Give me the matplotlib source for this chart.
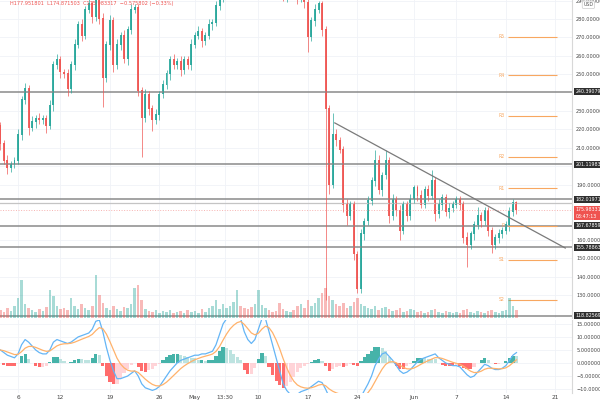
import numpy as np
import pandas as pd
import matplotlib
matplotlib.use("Agg")
import matplotlib.pyplot as plt
from matplotlib.transforms import blended_transform_factory

# 12h candles, x is day number counted from Apr 1 (Apr 1 = day 1)
first_day = 2.5
step = 0.5
first_open = 222.0

closes = [212, 203, 199, 201, 203, 217, 236, 242, 221, 224,
          226, 225, 226, 222, 233, 255, 258, 251, 250, 242,
          255, 266, 277, 271, 285, 288, 281, 291, 280, 248,
          266, 279, 255, 266, 271, 258, 274, 285, 286, 241,
          226, 239, 231, 225, 228, 239, 244, 250, 258, 255,
          257, 252, 258, 255, 266, 271, 273, 268, 271, 277,
          278, 287, 292, 295, 300, 305, 308, 312, 310, 304,
          300, 298, 302, 308, 314, 318, 315, 308, 302, 296,
          292, 294, 296, 293, 291, 292, 289, 270, 279, 285,
          288, 274, 231, 190, 217, 214, 209, 179, 173, 179,
          152, 133, 163, 170, 181, 192, 203, 187, 195, 203,
          173, 182, 176, 165, 179, 173, 182, 188, 184, 179,
          187, 184, 192, 174, 179, 183, 175, 177, 179, 182,
          179, 161, 157, 163, 168, 173, 170, 176, 165, 157,
          161, 163, 165, 168, 175, 180, 175.98]

wick_hi = [2, 2, 3, 2, 2, 3, 2, 3, 2, 3,
           2, 3, 2, 2, 3, 2, 3, 2, 2, 3,
           2, 3, 2, 3, 2, 3, 2, 3, 2, 3,
           2, 3, 2, 3, 2, 3, 2, 3, 2, 2,
           2, 3, 2, 2, 3, 2, 3, 2, 2, 3,
           2, 3, 2, 2, 3, 2, 3, 2, 2, 3,
           2, 3, 2, 2, 3, 2, 3, 2, 2, 3,
           2, 3, 2, 2, 3, 2, 3, 2, 2, 3,
           2, 3, 2, 2, 3, 2, 3, 3, 2, 3,
           2, 2, 2, 2, 12, 3, 2, 2, 3, 2,
           2, 2, 3, 2, 3, 2, 6, 3, 2, 6,
           2, 3, 2, 3, 2, 2, 3, 2, 2, 3,
           2, 3, 6, 2, 3, 2, 2, 3, 2, 2,
           2, 2, 3, 2, 2, 5, 2, 2, 2, 2,
           2, 3, 2, 2, 3, 2, 1]

wick_lo = [3, 2, 3, 2, 2, 2, 3, 2, 4, 2,
           3, 2, 2, 4, 2, 3, 2, 3, 2, 4,
           2, 3, 2, 3, 2, 2, 3, 2, 3, 16,
           2, 3, 4, 2, 3, 2, 3, 2, 2, 3,
           21, 2, 3, 6, 2, 3, 2, 2, 3, 2,
           2, 3, 2, 2, 3, 2, 2, 3, 2, 2,
           3, 2, 2, 3, 2, 2, 3, 2, 2, 3,
           2, 3, 2, 2, 3, 2, 2, 3, 2, 3,
           2, 3, 2, 2, 3, 2, 3, 8, 2, 3,
           2, 3, 104, 5, 2, 3, 2, 4, 5, 2,
           3, 2, 2, 3, 2, 2, 3, 2, 3, 2,
           4, 2, 3, 5, 2, 3, 2, 2, 3, 2,
           2, 3, 2, 4, 2, 3, 2, 3, 2, 2,
           3, 3, 12, 2, 3, 2, 3, 2, 3, 4,
           2, 3, 2, 2, 3, 2, 2]

volume = [8, 6, 10, 7, 12, 20, 38, 14, 10, 8,
          6, 9, 7, 11, 28, 22, 12, 9, 10, 8,
          20, 12, 9, 14, 10, 8, 12, 43, 23, 15,
          10, 8, 12, 9, 7, 11, 10, 14, 30, 33,
          18, 9, 7, 6, 8, 5, 7, 6, 8, 5,
          6, 7, 5, 8, 6, 7, 5, 9, 6, 10,
          12, 18, 9, 14, 10, 12, 16, 28, 12, 10,
          9, 11, 14, 28, 13, 10, 8, 6, 7, 15,
          9, 7, 6, 8, 12, 14, 10, 18, 12, 15,
          20, 25, 30, 22, 18, 14, 12, 15, 10, 12,
          16, 20, 14, 12, 10, 9, 12, 8, 10, 11,
          9, 7, 8, 10, 6, 7, 9, 8, 6, 7,
          5, 6, 8, 9, 6, 5, 7, 6, 5, 6,
          5, 8, 9, 6, 5, 7, 6, 5, 7, 8,
          6, 5, 7, 8, 20, 12, 8]

# MACD line
macd_line = [5, 4, 3, 2.5, 2, 3.5, 7, 9, 8, 6.5,
             5, 4, 3.5, 3.5, 5, 8, 9, 8.5, 8, 7.5,
             8, 9, 10, 10.5, 11, 11.5, 13, 16, 16.5, 12,
             6, 1, -3, -6, -6, -5.5, -5, -4, -3, -5,
             -8, -9.5, -10, -10.5, -10, -9, -7, -5, -3, -1.5,
             0, 1, 1.5, 2, 2.5, 3, 3, 3.5, 3.5, 4,
             4.5, 7, 11, 15, 17, 18, 18, 18, 17, 12,
             9, 7.5, 9, 13, 17, 17, 12, 7, 2, -3,
             -8, -10.5, -12, -12.5, -12, -11, -10.5, -10, -9, -8,
             -7, -7.5, -10, -13, -13, -13, -13, -14, -14, -13.5,
             -14, -15, -13, -10.5, -8, -5, -1, 1.5, 3.5, 4,
             2.5, 1, -1, -3, -4, -3.5, -2.5, -1, 0.5, 1.5,
             2, 2.5, 3, 3.5, 2, 1, 0, -0.5, -1, -1,
             -1.5, -3, -4.5, -5.5, -5, -3.5, -2, -0.5, -1, -2,
             -2.5, -2.5, -2, -1, 1, 3, 4]

# horizontal levels and their labels
levels = [240.390790, 201.119836, 182.019710, 167.678597, 155.788633, 118.825694]
light_level = 179.9
last_price = 175.983317

# weekly pivots (Jun 14 - Jun 21)
pivot_names = ["R5", "R4", "R3", "R2", "R1", "P", "S1", "S2"]
pivot_vals = [270.2, 249.5, 227.3, 205.0, 188.1, 167.7, 149.0, 127.3]
pivot_start, pivot_end = 74.3, 81.2

# trendline
trend_x = [49.8, 82.4]
trend_y = [223.5, 155.5]

tick_days = [5, 11, 18, 25, 30, 34.3, 39, 46, 53, 61, 67, 74, 81]
tick_names = ["6", "12", "19", "26", "May", "13:30", "10", "17", "24", "Jun", "7", "14", "21"]
price_ticks = [130, 140, 150, 160, 190, 200, 210, 220, 230, 250, 260, 270, 280, 290]
macd_ticks = [-10, -5, 0, 5, 10, 15]

UP = "#26a69a"
DOWN = "#ef5350"

c = np.array(closes, dtype=float)
o = np.concatenate([[first_open], c[:-1]])
hi = np.maximum(o, c) + np.array(wick_hi)
lo = np.minimum(o, c) - np.array(wick_lo)
x = first_day + step * np.arange(len(c))
up = c >= o
col = np.where(up, UP, DOWN)

fig = plt.figure(figsize=(6, 4), dpi=100)
ax = fig.add_axes([0, 0.205, 0.9533, 0.795])
axm = fig.add_axes([0, 0.0175, 0.9533, 0.1825], sharex=ax)

xmin, xmax = 2.45, 83.35
ax.set_xlim(xmin, xmax)
ax.set_ylim(117.47, 290.3)

# volume on its own scale at the bottom
axv = ax.twinx()
axv.set_ylim(0, 318)
axv.bar(x, volume, width=0.36, color=col, alpha=0.4, linewidth=0)
axv.set_yticks([])
for s in axv.spines.values():
    s.set_visible(False)

ax.vlines(x, lo, hi, colors=col, linewidth=0.6, alpha=0.8)
ax.bar(x, np.abs(c - o) + 0.4, bottom=np.minimum(o, c), width=0.28, color=col,
       linewidth=0, alpha=0.9)

for lv in levels:
    ax.axhline(lv, color="#8a8a8a", linewidth=1.1, zorder=1)
ax.axhline(light_level, color="#c4c4c4", linewidth=0.9, zorder=1)
ax.axhline(last_price, color="#f7b3b1", linewidth=0.7, linestyle=":", zorder=1)

ax.hlines(pivot_vals, pivot_start, pivot_end, color="#f8a760", linewidth=0.8)
for nm, pv in zip(pivot_names, pivot_vals):
    ax.text(pivot_start - 0.5, pv, nm, fontsize=3.3, color="#f8a760", ha="right", va="center")

ax.plot(trend_x, trend_y, color="#7a7a7a", linewidth=0.9)

ax.set_yticks(price_ticks)
ax.set_yticklabels(["%.6f" % t for t in price_ticks])
ax.yaxis.tick_right()
ax.tick_params(axis="y", length=0, labelsize=3.6, labelcolor="#444", pad=3)
ax.set_xticks(tick_days)
ax.tick_params(axis="x", length=0, labelbottom=False)
ax.grid(True, color="#f0f2f7", linewidth=0.6)
ax.set_axisbelow(True)
for side in ["top", "left", "bottom"]:
    ax.spines[side].set_visible(False)
ax.spines["right"].set_color("#d8d8d8")

tr = blended_transform_factory(ax.transAxes, ax.transData)
for lv in levels:
    ax.text(1.006, lv, "%.6f" % lv, transform=tr, fontsize=3.4, color="white",
            va="center", ha="left",
            bbox=dict(boxstyle="square,pad=0.2", fc="#2f2f2f", ec="none"))
ax.text(1.006, last_price - 1.5, "%.6f\n03:47:13" % last_price, transform=tr, fontsize=3.4,
        color="white", va="center", ha="left", linespacing=1.3,
        bbox=dict(boxstyle="square,pad=0.25", fc=DOWN, ec="none"))

ax.text(0.017, 0.997, "H177.951801  L174.871503  C175.983317  \u22120.575802 (\u22120.33%)",
        transform=ax.transAxes, fontsize=3.6, color=DOWN, va="top", ha="left")
ax.text(1.02, 0.985, "USD", transform=ax.transAxes, fontsize=3.4, color="#555",
        va="center", ha="left",
        bbox=dict(boxstyle="round,pad=0.25", fc="white", ec="#cccccc", lw=0.5))

# signal and histogram from the MACD line
m = pd.Series(macd_line, dtype=float)
signal = m.ewm(span=6, adjust=False).mean()
hist = (m - signal).values
prev = np.concatenate([[0], hist[:-1]])
hcol = np.where(hist >= 0, np.where(hist >= prev, UP, "#b2dfdb"),
                np.where(hist < prev, "#ff5252", "#ffcdd2"))
axm.bar(x, hist, width=0.45, color=hcol, linewidth=0, alpha=0.85)
axm.plot(x, m, color="#64b5f6", linewidth=0.9)
axm.plot(x, signal, color="#ffb26b", linewidth=0.9)
axm.set_ylim(-11.5, 16.5)
axm.set_yticks(macd_ticks)
axm.set_yticklabels(["%.6f" % t if t >= 0 else "\u2212%.6f" % -t for t in macd_ticks])
axm.yaxis.tick_right()
axm.tick_params(axis="y", length=0, labelsize=3.6, labelcolor="#444", pad=3)
axm.set_xticks(tick_days)
axm.set_xticklabels(tick_names)
axm.tick_params(axis="x", length=0, labelsize=4.2, labelcolor="#444", pad=1.5)
axm.grid(True, color="#f0f2f7", linewidth=0.6)
axm.set_axisbelow(True)
for side in ["top", "left", "bottom"]:
    axm.spines[side].set_visible(False)
axm.spines["right"].set_color("#d8d8d8")
axm.set_xlim(xmin, xmax)

fig.savefig("out.png", dpi=100)
